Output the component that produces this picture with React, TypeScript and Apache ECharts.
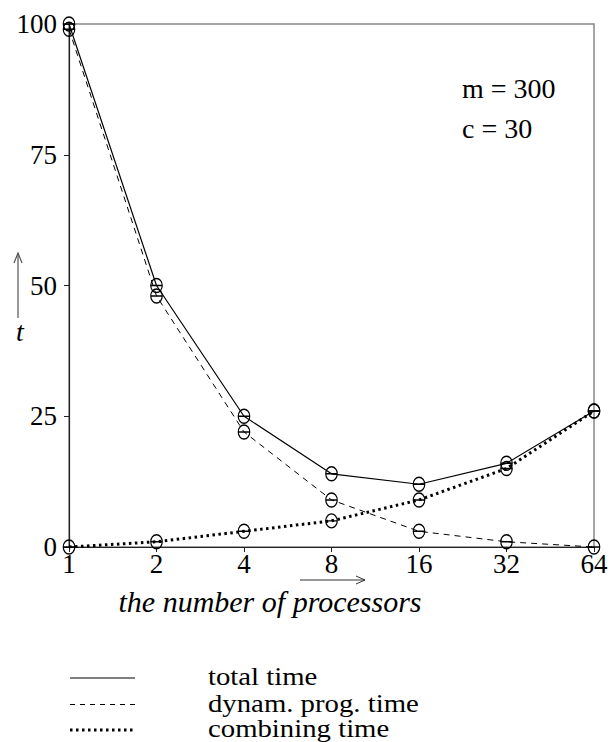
import React, { useEffect, useRef } from "react";
import * as echarts from "echarts";

const categories = ["1", "2", "4", "8", "16", "32", "64"];
const totalTime = [100, 50, 25, 14, 12, 16, 26];
const dynProgTime = [99, 48, 22, 9, 3, 1, 0];
const combiningTime = [0, 1, 3, 5, 9, 15, 26];
const yTicks = { min: 0, max: 100, interval: 25 };
const legendLabels = ["total time", "dynam. prog. time", "combining time"];
const annotations = ["m = 300", "c = 30"];
const xTitle = "the number of processors";
const yTitle = "t";

const SERIF = "Liberation Serif";
const THETA =
  "path://M5,0 C2.2,0 0,2.9 0,6.5 C0,10.1 2.2,13 5,13 C7.8,13 10,10.1 10,6.5 C10,2.9 7.8,0 5,0 Z M0,6.5 L10,6.5";

export default function App() {
  const ref = useRef<HTMLDivElement>(null);
  useEffect(() => {
    if (!ref.current) return;
    const chart = echarts.init(ref.current, null, { renderer: "svg" });
    const mkSeries = (name: string, data: number[], lineStyle: any) => ({
      name,
      type: "line",
      data,
      symbol: THETA,
      symbolSize: [11.5, 14],
      showAllSymbol: true,
      itemStyle: { color: "transparent", borderColor: "#000", borderWidth: 1.3 },
      lineStyle: { color: "#000", ...lineStyle },
      emphasis: { disabled: true },
    });
    const legendStyles = [
      { lineDash: null, lineWidth: 1.2 },
      { lineDash: [5, 5], lineWidth: 1 },
      { lineDash: [2.5, 3.5], lineWidth: 3 },
    ];
    const legendY = [678, 704.5, 730];
    const graphic: any[] = [];
    legendLabels.forEach((lab, i) => {
      graphic.push({
        type: "line",
        shape: { x1: 70, y1: legendY[i], x2: 135, y2: legendY[i] },
        style: { stroke: "#000", lineWidth: legendStyles[i].lineWidth, lineDash: legendStyles[i].lineDash },
      });
      graphic.push({
        type: "text",
        x: 208,
        y: legendY[i] - 1,
        scaleX: 1.15,
        style: {
          text: lab,
          fontFamily: SERIF,
          fontSize: 25,
          lineHeight: 24,
          fill: "#000",
          textVerticalAlign: "middle",
        },
      });
    });
    annotations.forEach((t, i) => {
      graphic.push({
        type: "text",
        x: 462,
        y: 88 + i * 40,
        style: { text: t, fontFamily: SERIF, fontSize: 28, fill: "#000", textVerticalAlign: "middle" },
      });
    });
    graphic.push(
      {
        type: "text",
        x: 270,
        y: 601,
        style: {
          text: xTitle,
          fontFamily: SERIF,
          fontStyle: "italic",
          fontSize: 30,
          fill: "#000",
          textAlign: "center",
          textVerticalAlign: "middle",
        },
      },
      { type: "line", shape: { x1: 300, y1: 580, x2: 365, y2: 580 }, style: { stroke: "#333", lineWidth: 1 } },
      { type: "polyline", shape: { points: [[356, 576], [365, 580], [356, 584]] }, style: { stroke: "#333", lineWidth: 1, fill: null } },
      { type: "line", shape: { x1: 18, y1: 318, x2: 18, y2: 253 }, style: { stroke: "#555", lineWidth: 1.2 } },
      { type: "polyline", shape: { points: [[14, 263], [18, 253], [22, 263]] }, style: { stroke: "#555", lineWidth: 1.2, fill: null } },
      {
        type: "text",
        x: 20,
        y: 331,
        style: {
          text: yTitle,
          fontFamily: SERIF,
          fontStyle: "italic",
          fontSize: 28,
          fill: "#000",
          textAlign: "center",
          textVerticalAlign: "middle",
        },
      }
    );
    chart.setOption({
      animation: false,
      backgroundColor: "#fff",
      grid: {
        left: 69,
        right: 18,
        top: 24,
        bottom: 195,
        show: true,
        borderColor: "#888",
        borderWidth: 1.5,
        backgroundColor: "transparent",
      },
      xAxis: {
        type: "category",
        data: categories,
        boundaryGap: false,
        axisLine: { lineStyle: { color: "#222", width: 1.2 } },
        axisTick: { show: true, length: 5, inside: false, lineStyle: { color: "#222" } },
        axisLabel: { color: "#000", fontFamily: SERIF, fontSize: 27, margin: 3 },
        splitLine: { show: false },
      },
      yAxis: {
        type: "value",
        min: yTicks.min,
        max: yTicks.max,
        interval: yTicks.interval,
        axisLine: { show: true, lineStyle: { color: "#222", width: 1.2 } },
        axisTick: { show: true, length: 5, lineStyle: { color: "#222" } },
        axisLabel: { color: "#000", fontFamily: SERIF, fontSize: 27, margin: 12 },
        splitLine: { show: false },
      },
      series: [
        mkSeries(legendLabels[0], totalTime, { width: 1.2 }),
        mkSeries(legendLabels[1], dynProgTime, { width: 1, type: [6, 5] }),
        mkSeries(legendLabels[2], combiningTime, { width: 3, type: [2.5, 3.5] }),
      ],
      graphic,
    });
    return () => chart.dispose();
  }, []);
  return <div ref={ref} style={{ width: 612, height: 742, position: "absolute", left: 0, top: 0 }} />;
}
